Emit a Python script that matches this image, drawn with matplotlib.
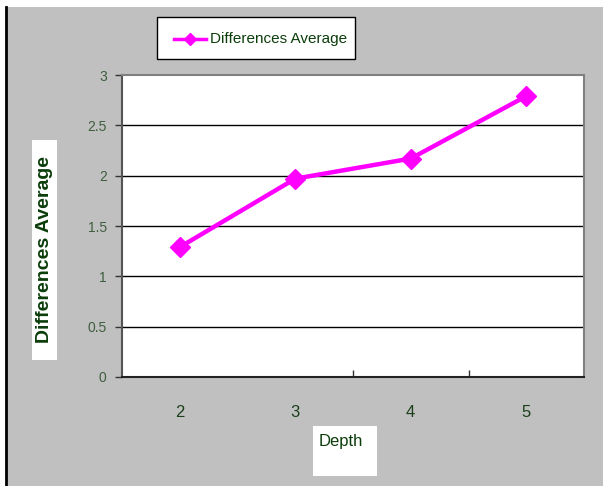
import matplotlib
matplotlib.use("Agg")
import matplotlib.pyplot as plt
from matplotlib.patches import Rectangle
from matplotlib.lines import Line2D

depths = [2, 3, 4, 5]
diff_avg = [1.29, 1.97, 2.17, 2.79]
y_ticks = [0, 0.5, 1, 1.5, 2, 2.5, 3]
y_tick_labels = ["0", "0.5", "1", "1.5", "2", "2.5", "3"]
series_name = "Differences Average"
x_label = "Depth"
y_label = "Differences Average"

plt.rcParams['font.family'] = ['Liberation Sans', 'DejaVu Sans']

W, H = 604, 486
fig = plt.figure(figsize=(W / 100, H / 100), dpi=100)
fig.patch.set_facecolor('white')

def fx(px):
    return px / W

def fy(py):
    return 1 - py / H

# gray chart area background
fig.patches.append(Rectangle((fx(7), 0), fx(603) - fx(7), fy(7), transform=fig.transFigure,
                             facecolor='#C0C0C0', edgecolor='none', zorder=0))
fig.lines.append(Line2D([fx(6), fx(6)], [0, fy(7)], transform=fig.transFigure, color='black', lw=2))

ax = fig.add_axes([fx(122), fy(377), fx(584) - fx(122), fy(75) - fy(377)])
ax.set_zorder(5)
ax.set_facecolor('white')
ax.set_xlim(1.5, 5.5)
ax.set_ylim(0, 3)

for y in y_ticks[1:-1]:
    ax.axhline(y, color='black', lw=1.0, zorder=1)

ax.plot(depths, diff_avg, color='#FF00FF', lw=3.2, marker='D', markersize=10,
        markeredgecolor='#FF00FF', zorder=3, clip_on=False)

ax.set_yticks(y_ticks)
ax.set_yticklabels(y_tick_labels, fontsize=10, color='#3E5E3E')
ax.tick_params(axis='y', direction='out', length=5, width=1, color='#333333', pad=6)

ax.set_xticks([3.5, 4.5])
ax.set_xticklabels([])
ax.tick_params(axis='x', direction='in', length=5, width=1, color='#333333')
for d in depths:
    ax.text(d, -0.35, str(d), ha='center', va='center', fontsize=12, color='#1A3F1A',
            transform=ax.transData, clip_on=False)

ax.spines['top'].set_color('#808080')
ax.spines['right'].set_color('#808080')
ax.spines['left'].set_color('#555555')
ax.spines['bottom'].set_color('#222222')
for s in ax.spines.values():
    s.set_linewidth(1.5)

# legend box
fig.patches.append(Rectangle((fx(157), fy(59)), fx(355) - fx(157), fy(17) - fy(59),
                             transform=fig.transFigure, facecolor='white', edgecolor='black',
                             lw=1, zorder=2))
fig.lines.append(Line2D([fx(174), fx(206)], [fy(39), fy(39)], transform=fig.transFigure,
                        color='#FF00FF', lw=2.5, zorder=3))
fig.lines.append(Line2D([fx(190)], [fy(39)], transform=fig.transFigure, color='#FF00FF',
                        marker='D', markersize=6, lw=0, zorder=4))
fig.text(fx(210), fy(39), series_name, ha='left', va='center', fontsize=11, color='#0B3D0B',
         zorder=4)

# y label box
fig.patches.append(Rectangle((fx(32), fy(360)), fx(57) - fx(32), fy(140) - fy(360),
                             transform=fig.transFigure, facecolor='white', edgecolor='none',
                             zorder=2))
fig.text(fx(45), fy(249), y_label, rotation=90, ha='center', va='center', fontsize=14,
         fontweight='bold', color='#0B3D0B', zorder=3)

# x label box
fig.patches.append(Rectangle((fx(313), fy(476)), fx(377) - fx(313), fy(426) - fy(476),
                             transform=fig.transFigure, facecolor='white', edgecolor='none',
                             zorder=2))
fig.text(fx(319), fy(441), x_label, ha='left', va='center', fontsize=12,
         color='#0B3D0B', zorder=3)

fig.savefig('out.png', dpi=100, facecolor=fig.get_facecolor())
